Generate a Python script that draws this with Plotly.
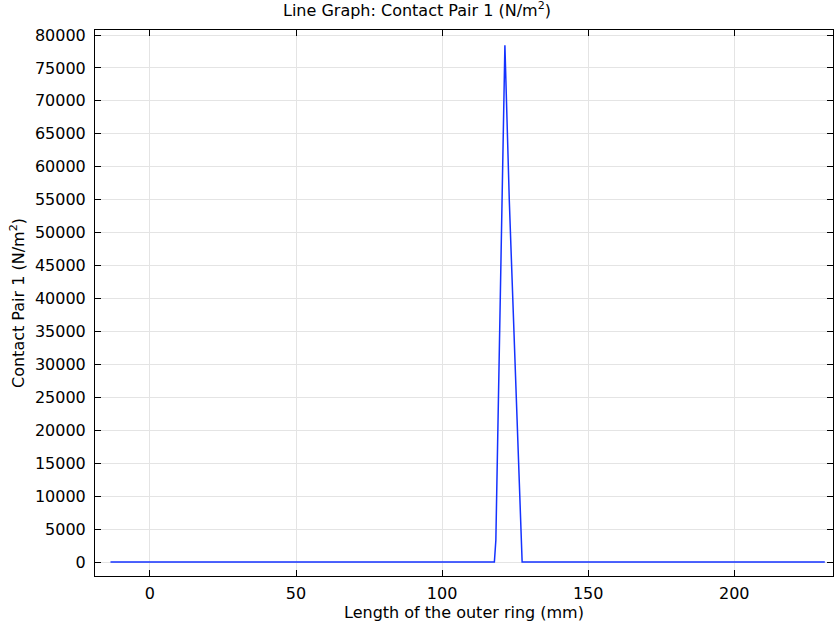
import plotly.graph_objects as go

# Data
x_mm = [-13.5, 0, 50, 100, 117.9, 118.4, 121.5, 123.0, 127.4, 150, 200, 231.0]
pressure = [0, 0, 0, 0, 0, 3300, 78450, 54900, 0, 0, 0, 0]

x_ticks = [0, 50, 100, 150, 200]
y_ticks = list(range(0, 80001, 5000))

font_family = "DejaVu Sans"

fig = go.Figure()
fig.add_trace(go.Scatter(
    x=x_mm, y=pressure, mode="lines",
    line=dict(color="rgb(20,50,255)", width=1.5),
    showlegend=False,
))

axis_common = dict(
    showline=True, linecolor="black", linewidth=1, mirror="ticks",
    ticks="inside", ticklen=6, tickcolor="black",
    showgrid=True, gridcolor="#e4e4e4", gridwidth=1,
    zeroline=False,
    tickfont=dict(family=font_family, size=16, color="black"),
)

fig.update_xaxes(
    range=[-18.8, 233.8], tickvals=x_ticks,
    ticktext=[str(v) for v in x_ticks],
    ticklabelstandoff=3,
    title=dict(text="Length of the outer ring (mm)", standoff=0,
               font=dict(family=font_family, size=16, color="black")),
    **axis_common,
)
fig.update_yaxes(
    range=[-2125, 80760], tickvals=y_ticks,
    ticktext=[str(v) for v in y_ticks],
    ticklabelstandoff=5,
    title=dict(text="Contact Pair 1 (N/m<sup>2</sup>)", standoff=6,
               font=dict(family=font_family, size=16, color="black")),
    **axis_common,
)

fig.update_layout(
    width=834, height=622,
    margin=dict(l=95, r=1, t=30, b=46),
    paper_bgcolor="white", plot_bgcolor="white",
    title=dict(text="Line Graph: Contact Pair 1 (N/m<sup>2</sup>)",
               x=0.5, xanchor="center", y=0.992, yanchor="top",
               font=dict(family=font_family, size=16, color="black")),
    font=dict(family=font_family, color="black"),
)

fig.write_html("out.html")
